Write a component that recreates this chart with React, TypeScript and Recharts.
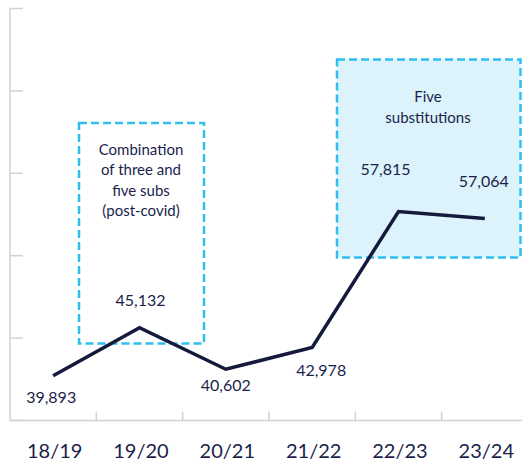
import React from 'react';
import { ComposedChart, Line, XAxis, YAxis, LabelList } from 'recharts';

const seasons = ['18/19', '19/20', '20/21', '21/22', '22/23', '23/24'];
const attendance = [39893, 45132, 40602, 42978, 57815, 57064];
const yTicks = [35000, 44000, 53000, 62000, 71000, 80000];
const yDomain: [number, number] = [35000, 80000];
const box1Lines = ['Combination', 'of three and', 'five subs', '(post-covid)'];
const box2Lines = ['Five', 'substitutions'];

const data = seasons.map((s, i) => ({ season: s, value: attendance[i] }));

// label offsets (styling) relative to each point
const LABEL_OFFSETS: [number, number][] = [
  [-2, 27],
  [1, -22],
  [0, 21.5],
  [9, 29],
  [-13, -37],
  [-1, -31],
];

const FONT = 'Lato, "Noto Sans", sans-serif';
const TEXT = '#1b1f4c';
const AXIS = '#d2d2d2';
const LINE = '#151a3c';
const DASH = '#2ebef0';

const XTick = (props: any) => {
  const { x, y, payload, index } = props;
  const half = payload && typeof payload.offset === 'number' && payload.offset > 0 ? payload.offset : 43.2;
  return (
    <g>
      {index > 0 && (
        <line x1={x - half} x2={x - half} y1={y} y2={y - 9} stroke={AXIS} strokeWidth={1.5} />
      )}
      <text x={x + 1.5} y={y + 37} textAnchor="middle" fill={TEXT} fontSize={20} fontFamily={FONT}>
        {payload.value}
      </text>
    </g>
  );
};

const YTick = (props: any) => {
  const { x, y } = props;
  return <line x1={x} x2={x + 13} y1={y} y2={y} stroke={AXIS} strokeWidth={1.5} />;
};

const ValueLabel = (props: any) => {
  const { x, y, value, index } = props;
  const off = LABEL_OFFSETS[index] || [0, -10];
  return (
    <text
      x={x + off[0]}
      y={y + off[1]}
      textAnchor="middle"
      fill={TEXT}
      fontSize={16}
      fontFamily={FONT}
    >
      {Number(value).toLocaleString('en-US')}
    </text>
  );
};

export default function App() {
  return (
    <div style={{ position: 'absolute', left: 0, top: 0, width: 522, height: 466, overflow: 'hidden', background: '#fff' }}>
      <svg width={522} height={466} style={{ position: 'absolute', left: 0, top: 0 }}>
        <rect x={79} y={123} width={125} height={220.5} fill="none" stroke={DASH} strokeWidth={2.5} strokeDasharray="8 4" />
        {box1Lines.map((t, i) => (
          <text key={t} x={141} y={154.5 + i * 20.5} textAnchor="middle" fill={TEXT} fontSize={15} fontFamily={FONT}>
            {t}
          </text>
        ))}
        <rect x={337} y={59.5} width={183.5} height={198} fill="#dcf3fb" stroke={DASH} strokeWidth={2.5} strokeDasharray="8 4" />
        {box2Lines.map((t, i) => (
          <text key={t} x={428} y={102 + i * 20.5} textAnchor="middle" fill={TEXT} fontSize={15} fontFamily={FONT}>
            {t}
          </text>
        ))}
      </svg>
      <div style={{ position: 'absolute', left: 0, top: 0 }}>
        <ComposedChart
          width={530}
          height={466}
          data={data}
          margin={{ top: 8.5, right: 2, bottom: 0, left: 9 }}
        >
          <XAxis
            dataKey="season"
            scale="band"
            type="category"
            interval={0}
            height={45.5}
            tickSize={0}
            tickMargin={0}
            tickLine={false}
            axisLine={{ stroke: AXIS, strokeWidth: 1.5 }}
            tick={<XTick />}
          />
          <YAxis
            width={1}
            domain={yDomain}
            ticks={yTicks}
            interval={0}
            tick={<YTick />}
            tickSize={0}
            tickMargin={0}
            tickLine={false}
            axisLine={{ stroke: AXIS, strokeWidth: 1.5 }}
            allowDataOverflow
          />
          <Line
            type="linear"
            dataKey="value"
            stroke={LINE}
            strokeWidth={3.5}
            dot={false}
            activeDot={false}
            isAnimationActive={false}
          >
            <LabelList dataKey="value" content={<ValueLabel />} />
          </Line>
        </ComposedChart>
      </div>
    </div>
  );
}
